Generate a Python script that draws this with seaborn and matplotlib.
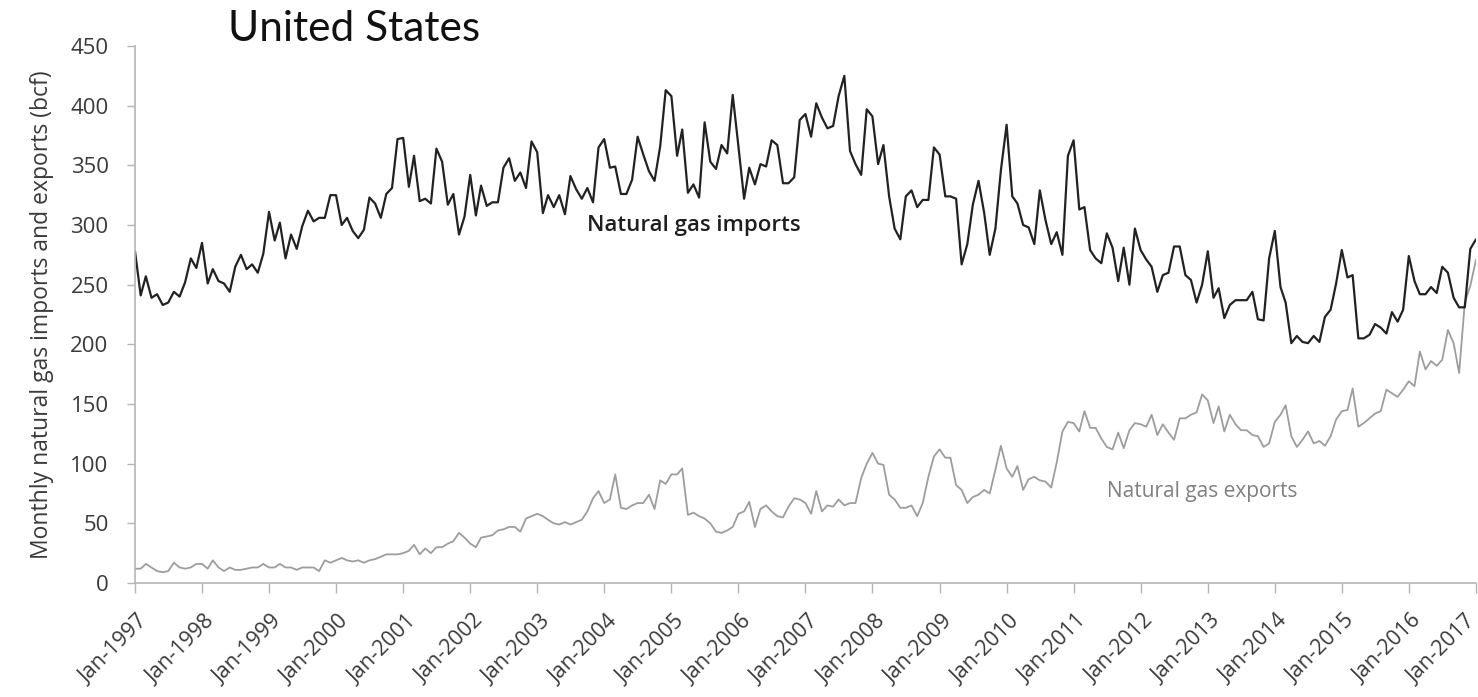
import matplotlib
matplotlib.use("Agg")
import matplotlib.pyplot as plt
from matplotlib.transforms import ScaledTranslation
import pandas as pd
import seaborn as sns

# Monthly values, Jan-1997 .. Jan-2017 (bcf)
imports_bcf = [
    278, 241, 257, 239, 242, 233, 235, 244, 240, 252, 272, 264,
    285, 251, 263, 253, 251, 244, 265, 275, 263, 267, 260, 276,
    311, 287, 302, 272, 292, 280, 299, 312, 303, 306, 306, 325,
    325, 300, 306, 295, 289, 296, 323, 318, 306, 326, 331, 372,
    373, 332, 358, 320, 322, 318, 364, 353, 317, 326, 292, 307,
    342, 308, 333, 316, 319, 319, 348, 356, 337, 344, 331, 370,
    361, 310, 325, 315, 325, 309, 341, 330, 322, 331, 319, 365,
    372, 348, 349, 326, 326, 338, 374, 359, 345, 337, 366, 413,
    408, 358, 380, 327, 334, 323, 386, 353, 347, 367, 360, 409,
    366, 322, 348, 334, 351, 349, 371, 367, 335, 335, 340, 388,
    393, 374, 402, 390, 381, 383, 408, 425, 362, 351, 342, 397,
    391, 351, 367, 324, 297, 288, 324, 329, 315, 321, 321, 365,
    359, 324, 324, 322, 267, 284, 317, 337, 310, 275, 297, 346,
    384, 324, 318, 300, 298, 284, 329, 304, 284, 294, 275, 358,
    371, 313, 315, 279, 272, 268, 293, 281, 253, 281, 250, 297,
    279, 271, 265, 244, 258, 260, 282, 282, 258, 254, 235, 250,
    278, 239, 247, 222, 233, 237, 237, 237, 244, 221, 220, 272,
    295, 248, 235, 201, 207, 202, 201, 207, 202, 223, 229, 251,
    279, 256, 258, 205, 205, 208, 217, 214, 209, 227, 219, 229,
    274, 253, 242, 242, 248, 243, 265, 260, 239, 231, 231, 280,
    288,
]

exports_bcf = [
    12, 12, 16, 13, 10, 9, 10, 17, 13, 12, 13, 16,
    16, 12, 19, 13, 10, 13, 11, 11, 12, 13, 13, 16,
    13, 13, 16, 13, 13, 11, 13, 13, 13, 10, 19, 17,
    19, 21, 19, 18, 19, 17, 19, 20, 22, 24, 24, 24,
    25, 27, 32, 24, 29, 25, 30, 30, 33, 35, 42, 38,
    33, 30, 38, 39, 40, 44, 45, 47, 47, 43, 54, 56,
    58, 56, 53, 50, 49, 51, 49, 51, 53, 60, 71, 77,
    67, 70, 91, 63, 62, 65, 67, 67, 74, 62, 86, 83,
    91, 91, 96, 57, 59, 56, 54, 50, 43, 42, 44, 47,
    58, 60, 68, 47, 62, 65, 60, 56, 55, 64, 71, 70,
    67, 58, 77, 60, 65, 64, 70, 65, 67, 67, 88, 100,
    109, 100, 99, 74, 70, 63, 63, 65, 56, 67, 89, 106,
    112, 105, 105, 82, 78, 67, 72, 74, 78, 75, 95, 115,
    96, 89, 98, 78, 87, 89, 86, 85, 80, 101, 127, 135,
    134, 127, 144, 130, 130, 121, 114, 112, 126, 113, 128, 134,
    133, 131, 141, 124, 133, 126, 120, 138, 138, 141, 143, 158,
    153, 134, 148, 127, 141, 133, 128, 128, 124, 123, 114, 117,
    135, 141, 149, 123, 114, 120, 127, 117, 119, 115, 123, 137,
    144, 145, 163, 131, 134, 138, 142, 144, 162, 159, 156, 162,
    169, 165, 194, 179, 186, 182, 187, 212, 201, 176, 235, 249,
    271,
]

x_tick_labels = [
    "Jan-1997", "Jan-1998", "Jan-1999", "Jan-2000", "Jan-2001", "Jan-2002",
    "Jan-2003", "Jan-2004", "Jan-2005", "Jan-2006", "Jan-2007", "Jan-2008",
    "Jan-2009", "Jan-2010", "Jan-2011", "Jan-2012", "Jan-2013", "Jan-2014",
    "Jan-2015", "Jan-2016", "Jan-2017",
]
y_ticks = [0, 50, 100, 150, 200, 250, 300, 350, 400, 450]

months = pd.date_range("1997-01-01", periods=len(imports_bcf), freq="MS")
df = pd.DataFrame({"month": months, "imports": imports_bcf, "exports": exports_bcf})

sns.set_style("ticks")
plt.rcParams["font.family"] = ["Open Sans", "DejaVu Sans"]

fig = plt.figure(figsize=(14.78, 6.97), dpi=100)
ax = fig.add_axes([135 / 1478, 114 / 697, 1341 / 1478, 537 / 697])

sns.lineplot(data=df, x="month", y="exports", ax=ax, color="#9d9d9d", linewidth=1.3)
sns.lineplot(data=df, x="month", y="imports", ax=ax, color="#222222", linewidth=1.6)

ax.set_xlim(months[0], months[-1])
ax.set_ylim(0, 450)
tick_dates = pd.date_range("1997-01-01", periods=len(x_tick_labels), freq="YS")
ax.set_xticks(tick_dates)
ax.set_xticklabels(x_tick_labels, rotation=45, ha="right", va="top",
                   rotation_mode="anchor", fontsize=15.5, color="#3a3a3a")
ax.set_yticks(y_ticks)
ax.set_yticklabels([str(v) for v in y_ticks], fontsize=16, color="#3a3a3a")
ax.tick_params(axis="x", length=7, width=1, color="#b5b5b5", pad=13)
ax.tick_params(axis="y", length=6, width=1, color="#b5b5b5", pad=13)

xlabels = ax.get_xticklabels()
shift = ScaledTranslation(2 / 72, 0, fig.dpi_scale_trans)
last_shift = ScaledTranslation(-8 / 72, 0, fig.dpi_scale_trans)
for k, lbl in enumerate(xlabels):
    lbl.set_transform(lbl.get_transform() + (last_shift if k == len(xlabels) - 1 else shift))

for side in ("top", "right"):
    ax.spines[side].set_visible(False)
for side in ("left", "bottom"):
    ax.spines[side].set_color("#b5b5b5")
    ax.spines[side].set_linewidth(1.2)

ax.set_xlabel("")
ax.set_ylabel("Monthly natural gas imports and exports (bcf)", fontsize=16.5,
              color="#3a3a3a", labelpad=12)

ax.text(pd.Timestamp("2005-05-01"), 300, "Natural gas imports", fontsize=16,
        fontweight="semibold", color="#1e1e1e", ha="center", va="center")
ax.text(pd.Timestamp("2012-12-01"), 77, "Natural gas exports", fontsize=15,
        color="#808080", ha="center", va="center")

fig.text(228 / 1478, 1 - 29 / 697, "United States", fontsize=30.5, color="#111111",
         ha="left", va="center", family=["Lato", "DejaVu Sans"])

fig.savefig("out.png", dpi=100, facecolor="white")
